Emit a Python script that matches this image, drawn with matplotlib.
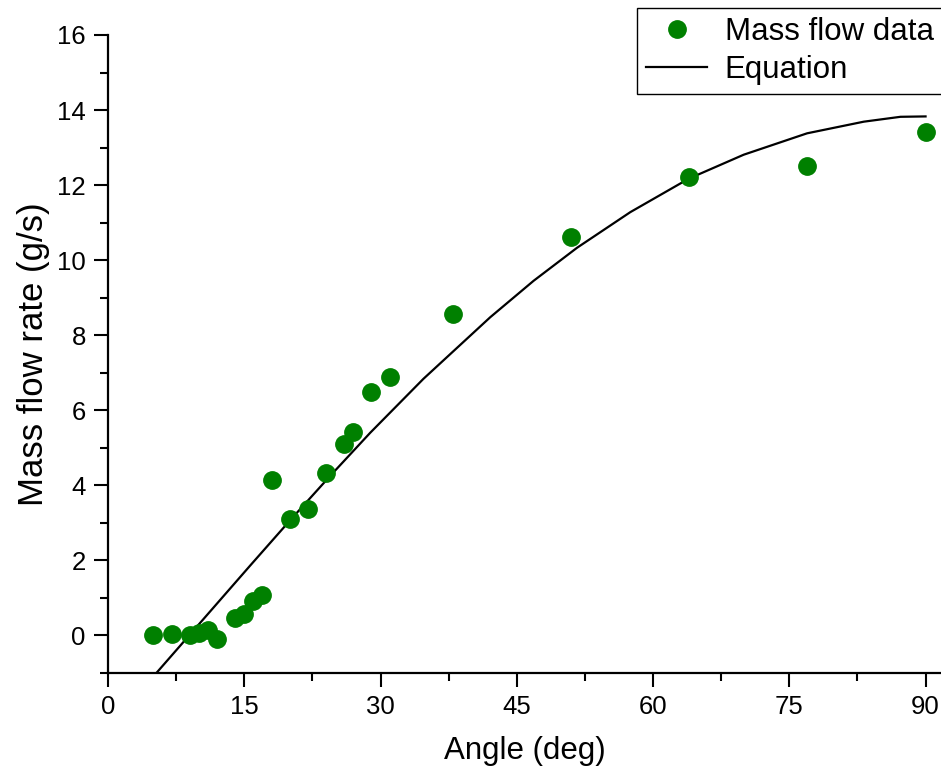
import matplotlib
matplotlib.use("Agg")
import matplotlib.pyplot as plt
from matplotlib.ticker import MultipleLocator

plt.rcParams['font.family'] = ['Liberation Sans', 'DejaVu Sans']

# Measured mass flow rate against angle
angle_deg = [5, 7, 9, 10, 11, 12, 14, 15, 16, 17, 18, 20, 22, 24, 26, 27, 29, 31, 38, 51, 64, 77, 90]
mass_flow = [0.0, 0.05, 0.0, 0.06, 0.15, -0.09, 0.47, 0.56, 0.93, 1.08, 4.14, 3.11, 3.37, 4.34,
             5.1, 5.43, 6.48, 6.9, 8.56, 10.61, 12.21, 12.5, 13.42]

# Fitted equation curve, sampled along the angle range
eq_angle = [5.36, 11.24, 15.64, 20.05, 24.45, 28.86, 34.73, 42.08, 46.85, 51.63, 57.5,
            63.92, 69.98, 76.96, 83.2, 87.24, 90.0]
eq_flow = [-0.99, 0.64, 1.86, 3.07, 4.25, 5.40, 6.84, 8.48, 9.45, 10.33, 11.28,
           12.17, 12.81, 13.38, 13.69, 13.82, 13.83]

x_ticks = [0, 15, 30, 45, 60, 75, 90]
y_ticks = [0, 2, 4, 6, 8, 10, 12, 14, 16]

fig = plt.figure(figsize=(9.41, 7.74), dpi=100)
ax = fig.add_axes([0.1148, 0.1305, 0.8852, 0.8243])

ax.plot(angle_deg, mass_flow, linestyle='none', marker='o', markersize=12.5,
        color='#008000', label='Mass flow data', zorder=3)
ax.plot(eq_angle, eq_flow, color='black', linewidth=1.6, label='Equation', zorder=2,
        solid_joinstyle='round')

ax.set_xlim(0, 91.7)
ax.set_ylim(-1, 16)
ax.set_xticks(x_ticks)
ax.set_yticks(y_ticks)
ax.xaxis.set_minor_locator(MultipleLocator(7.5))
ax.yaxis.set_minor_locator(MultipleLocator(1))

for side in ('top', 'right'):
    ax.spines[side].set_visible(False)
for side in ('left', 'bottom'):
    ax.spines[side].set_linewidth(1.6)

ax.tick_params(which='major', direction='out', length=10, width=1.5, labelsize=18.5, pad=6)
ax.tick_params(which='minor', direction='out', length=6, width=1.5)

ax.set_xlabel('Angle (deg)', fontsize=22.5, labelpad=12)
ax.set_ylabel('Mass flow rate (g/s)', fontsize=25, labelpad=5)

leg = fig.legend(loc='upper right', bbox_to_anchor=(1.002, 0.99), fontsize=22.5,
                 numpoints=1, handlelength=1.95, handletextpad=0.55, labelspacing=0.25,
                 borderpad=0.3, fancybox=False, framealpha=1, edgecolor='black',
                 borderaxespad=0)
leg.get_frame().set_linewidth(1.0)

fig.savefig('out.png', dpi=100)
